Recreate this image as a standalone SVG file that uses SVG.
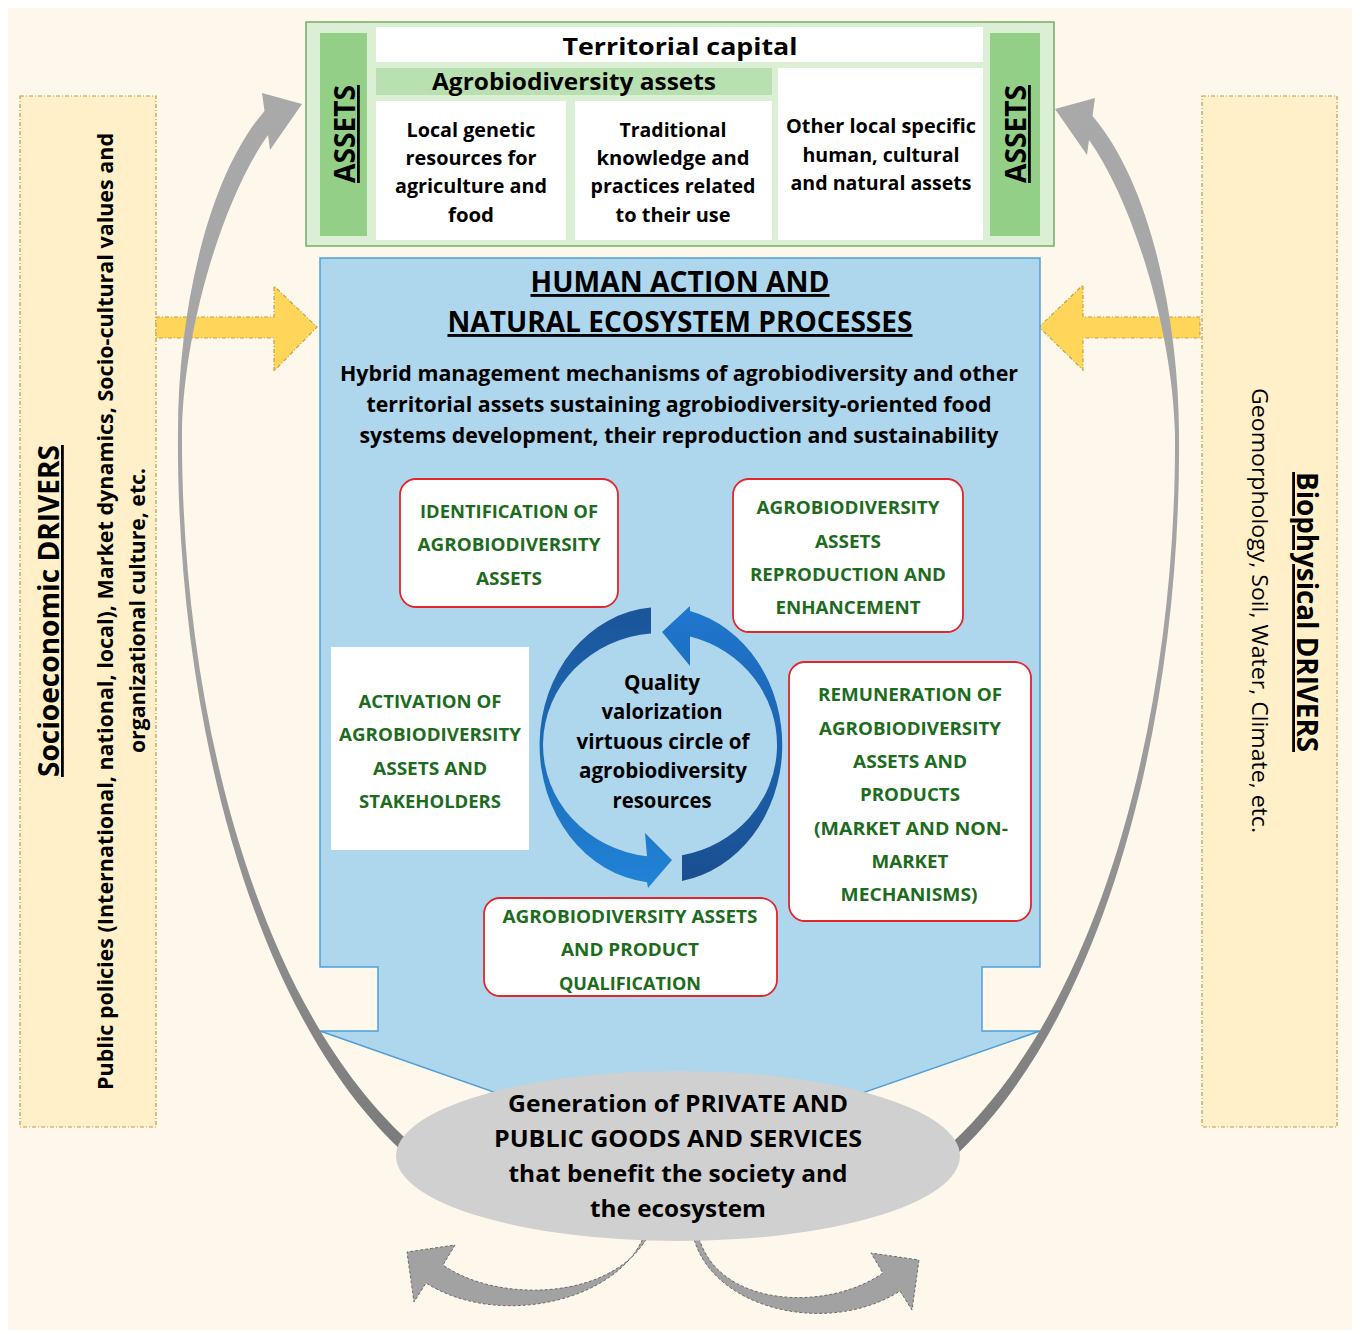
<svg xmlns="http://www.w3.org/2000/svg" width="1360" height="1334" viewBox="0 0 1360 1334">
<style>
text{font-family:"Open Sans","Liberation Sans",sans-serif;font-weight:700;fill:#000}
.c{text-anchor:middle}
.g{fill:#1d6b1d;font-size:17.5px}
.tb{font-size:20px;font-weight:700}
.red{fill:#fff;stroke:#e3262b;stroke-width:1.8}
.drv{fill:#fff0c9;stroke:#c49a45;stroke-width:1.2;stroke-dasharray:4 2 1 2}
.yar{fill:#ffd659;stroke:#c4a04a;stroke-width:1.2;stroke-dasharray:4 2 1 2}
.barr{fill:#a2a2a2;stroke:#6b6b6b;stroke-width:1;stroke-dasharray:3 2}
.u{text-decoration:underline}
.cell{fill:#fff}
.gbar{fill:#93cf87}
</style>
<defs>
<linearGradient id="ga" gradientUnits="userSpaceOnUse" x1="0" y1="100" x2="0" y2="1160">
<stop offset="0" stop-color="#a9a9a9"/><stop offset="0.55" stop-color="#a2a2a2"/><stop offset="1" stop-color="#7a7a7a"/>
</linearGradient>
<linearGradient id="bl1" gradientUnits="userSpaceOnUse" x1="0" y1="607" x2="0" y2="888">
<stop offset="0" stop-color="#1b5499"/><stop offset="1" stop-color="#2183d8"/>
</linearGradient>
<linearGradient id="bl2" gradientUnits="userSpaceOnUse" x1="0" y1="606" x2="0" y2="882">
<stop offset="0" stop-color="#1f78cf"/><stop offset="1" stop-color="#1a4e90"/>
</linearGradient>
</defs>
<rect width="1360" height="1334" fill="#fff"/>
<rect x="8" y="8" width="1344" height="1322" fill="#fdf8eb"/>

<g id="socioeconomic-drivers">
<rect class="drv" x="20" y="96" width="136" height="1031"/>
<text class="c u" transform="translate(59,611) rotate(-90)" font-size="28" textLength="332" lengthAdjust="spacingAndGlyphs">Socioeconomic DRIVERS</text>
<text class="c" transform="translate(113,611.5) rotate(-90)" font-size="20.5" textLength="957" lengthAdjust="spacingAndGlyphs">Public policies (International, national, local), Market dynamics, Socio-cultural values and</text>
<text class="c" transform="translate(145,610.5) rotate(-90)" font-size="20.5" textLength="285" lengthAdjust="spacingAndGlyphs">organizational culture, etc.</text>
</g>

<g id="biophysical-drivers">
<rect class="drv" x="1202" y="96" width="135" height="1031"/>
<text class="c u" transform="translate(1297,612) rotate(90)" font-size="28" textLength="280" lengthAdjust="spacingAndGlyphs">Biophysical DRIVERS</text>
<text class="c" transform="translate(1252,610.5) rotate(90)" font-size="21" style="font-weight:400" textLength="445" lengthAdjust="spacingAndGlyphs">Geomorphology, Soil, Water, Climate, etc.</text>
</g>

<g id="connectors">
<polygon class="yar" points="156,317 274,317 274,286 317,327 274,371 274,338 156,338"/>
<polygon class="yar" points="1200,317 1083,317 1083,285 1039,327 1083,370 1083,338 1200,338"/>
</g>

<g id="territorial-capital">
<rect x="306" y="22" width="748" height="224" fill="#dbefd4" stroke="#74ab65" stroke-width="1.5"/>
<rect class="gbar" x="320" y="33" width="47" height="203"/>
<rect class="gbar" x="990" y="33" width="50" height="203"/>
<rect class="cell" x="376" y="27" width="607" height="35"/>
<rect x="376" y="68" width="396" height="27" fill="#b9e0b0"/>
<rect class="cell" x="376" y="101" width="190" height="139"/>
<rect class="cell" x="575" y="101" width="197" height="139"/>
<rect class="cell" x="778" y="68" width="205" height="172"/>
<text class="c" x="680" y="55" font-size="24" textLength="235" lengthAdjust="spacingAndGlyphs">Territorial capital</text>
<text class="c" x="574" y="90" font-size="23" textLength="284" lengthAdjust="spacingAndGlyphs">Agrobiodiversity assets</text>
<text class="c u" transform="translate(355,134) rotate(-90)" font-size="28" textLength="98" lengthAdjust="spacingAndGlyphs">ASSETS</text>
<text class="c u" transform="translate(1026,134) rotate(-90)" font-size="28" textLength="98" lengthAdjust="spacingAndGlyphs">ASSETS</text>
<text class="c tb" x="471" y="137" textLength="129" lengthAdjust="spacingAndGlyphs">Local genetic</text>
<text class="c tb" x="471" y="165" textLength="131" lengthAdjust="spacingAndGlyphs">resources for</text>
<text class="c tb" x="471" y="193" textLength="152" lengthAdjust="spacingAndGlyphs">agriculture and</text>
<text class="c tb" x="471" y="222" textLength="46" lengthAdjust="spacingAndGlyphs">food</text>
<text class="c tb" x="673" y="137" textLength="107" lengthAdjust="spacingAndGlyphs">Traditional</text>
<text class="c tb" x="673" y="165" textLength="153" lengthAdjust="spacingAndGlyphs">knowledge and</text>
<text class="c tb" x="673" y="193" textLength="165" lengthAdjust="spacingAndGlyphs">practices related</text>
<text class="c tb" x="673" y="222" textLength="115" lengthAdjust="spacingAndGlyphs">to their use</text>
<text class="c tb" x="881" y="133" textLength="190" lengthAdjust="spacingAndGlyphs">Other local specific</text>
<text class="c tb" x="881" y="162" textLength="157" lengthAdjust="spacingAndGlyphs">human, cultural</text>
<text class="c tb" x="881" y="190" textLength="181" lengthAdjust="spacingAndGlyphs">and natural assets</text>
</g>

<g id="human-action">
<polygon points="320,258 1040,258 1040,967 982,967 982,1031 1040,1031 679,1157 320,1031 378,1031 378,967 320,967" fill="#aed6ec" stroke="#4f9ed8" stroke-width="1.5"/>
<text class="c u" x="680" y="292" font-size="29" textLength="299" lengthAdjust="spacingAndGlyphs">HUMAN ACTION AND</text>
<text class="c u" x="680" y="332" font-size="29" textLength="465" lengthAdjust="spacingAndGlyphs">NATURAL ECOSYSTEM PROCESSES</text>
<text class="c" x="679" y="381" font-size="21" textLength="678" lengthAdjust="spacingAndGlyphs">Hybrid management mechanisms of agrobiodiversity and other</text>
<text class="c" x="679" y="412" font-size="21" textLength="625" lengthAdjust="spacingAndGlyphs">territorial assets sustaining agrobiodiversity-oriented food</text>
<text class="c" x="679" y="443" font-size="21" textLength="639" lengthAdjust="spacingAndGlyphs">systems development, their reproduction and sustainability</text>
</g>

<g id="identification">
<rect class="red" x="400" y="479" width="218" height="128" rx="16"/>
<text class="c g" x="509" y="518" textLength="178" lengthAdjust="spacingAndGlyphs">IDENTIFICATION OF</text>
<text class="c g" x="509" y="551" textLength="183" lengthAdjust="spacingAndGlyphs">AGROBIODIVERSITY</text>
<text class="c g" x="509" y="585" textLength="66" lengthAdjust="spacingAndGlyphs">ASSETS</text>
</g>

<g id="reproduction">
<rect class="red" x="733" y="479" width="230" height="153" rx="16"/>
<text class="c g" x="848" y="514" textLength="183" lengthAdjust="spacingAndGlyphs">AGROBIODIVERSITY</text>
<text class="c g" x="848" y="548" textLength="66" lengthAdjust="spacingAndGlyphs">ASSETS</text>
<text class="c g" x="848" y="581" textLength="196" lengthAdjust="spacingAndGlyphs">REPRODUCTION AND</text>
<text class="c g" x="848" y="614" textLength="145" lengthAdjust="spacingAndGlyphs">ENHANCEMENT</text>
</g>

<g id="activation">
<rect x="331" y="647" width="198" height="203" fill="#fff"/>
<text class="c g" x="430" y="708" textLength="143" lengthAdjust="spacingAndGlyphs">ACTIVATION OF</text>
<text class="c g" x="430" y="741" textLength="182" lengthAdjust="spacingAndGlyphs">AGROBIODIVERSITY</text>
<text class="c g" x="430" y="775" textLength="114" lengthAdjust="spacingAndGlyphs">ASSETS AND</text>
<text class="c g" x="430" y="808" textLength="142" lengthAdjust="spacingAndGlyphs">STAKEHOLDERS</text>
</g>

<g id="remuneration">
<rect class="red" x="789" y="662" width="242" height="259" rx="16"/>
<text class="c g" x="910" y="701" textLength="184" lengthAdjust="spacingAndGlyphs">REMUNERATION OF</text>
<text class="c g" x="910" y="735" textLength="182" lengthAdjust="spacingAndGlyphs">AGROBIODIVERSITY</text>
<text class="c g" x="910" y="768" textLength="114" lengthAdjust="spacingAndGlyphs">ASSETS AND</text>
<text class="c g" x="910" y="801" textLength="100" lengthAdjust="spacingAndGlyphs">PRODUCTS</text>
<text class="c g" x="911" y="835" textLength="194" lengthAdjust="spacingAndGlyphs">(MARKET AND NON-</text>
<text class="c g" x="910" y="868" textLength="77" lengthAdjust="spacingAndGlyphs">MARKET</text>
<text class="c g" x="909" y="901" textLength="137" lengthAdjust="spacingAndGlyphs">MECHANISMS)</text>
</g>

<g id="qualification">
<rect class="red" x="484" y="898" width="293" height="98" rx="16"/>
<text class="c g" x="630" y="923" textLength="255" lengthAdjust="spacingAndGlyphs">AGROBIODIVERSITY ASSETS</text>
<text class="c g" x="630" y="956" textLength="138" lengthAdjust="spacingAndGlyphs">AND PRODUCT</text>
<text class="c g" x="630" y="990" textLength="142" lengthAdjust="spacingAndGlyphs">QUALIFICATION</text>
</g>

<g id="virtuous-circle">
<path d="M651,607.5 A121,138 0 0 0 647,882.2 L648,888 L672,860 L645,833 L647,856.2 A118,112 0 0 1 651,633.4 Z" fill="url(#bl1)"/>
<path d="M682,881 A121,138 0 0 0 690,611 L690,606 L662,632 L690,666 L690,636.6 A116,112 0 0 1 682,855.2 Z" fill="url(#bl2)"/>
<text class="c" x="662" y="690" font-size="20.5" textLength="76" lengthAdjust="spacingAndGlyphs">Quality</text>
<text class="c" x="662" y="719" font-size="20.5" textLength="121" lengthAdjust="spacingAndGlyphs">valorization</text>
<text class="c" x="663" y="749" font-size="20.5" textLength="173" lengthAdjust="spacingAndGlyphs">virtuous circle of</text>
<text class="c" x="663" y="778" font-size="20.5" textLength="168" lengthAdjust="spacingAndGlyphs">agrobiodiversity</text>
<text class="c" x="662" y="808" font-size="20.5" textLength="99" lengthAdjust="spacingAndGlyphs">resources</text>
</g>

<g id="feedback-arrows">
<path d="M407.8,1156.2 C247,1013.4 175.5,700 178,430 C178,320 205,180 264.5,111 L262,93 L302,104 L270,150 L268,135 C222,200 184,330 182,430 C180.5,700 253,1006.6 416.2,1147.8 Z" fill="url(#ga)"/>
<path transform="matrix(-1 0 0 1 1357 5)" d="M407.8,1156.2 C247,1013.4 175.5,700 178,430 C178,320 205,180 264.5,111 L262,93 L302,104 L270,150 L268,135 C222,200 184,330 182,430 C180.5,700 253,1006.6 416.2,1147.8 Z" fill="url(#ga)"/>
<path class="barr" d="M646,1230 C625,1300 500,1330 426,1283 L414,1302 L407,1252 L455,1245 L443,1265 C500,1305 620,1300 651,1230 Z"/>
<path class="barr" d="M692,1230 C705,1308 826,1338 900,1291 L912,1310 L919,1260 L871,1253 L883,1273 C826,1313 712,1308 697,1230 Z"/>
</g>

<g id="goods-services">
<ellipse cx="678" cy="1156" rx="282" ry="85" fill="#d0d0d0"/>
<text class="c" x="678" y="1112" font-size="24" textLength="340" lengthAdjust="spacingAndGlyphs">Generation of PRIVATE AND</text>
<text class="c" x="678" y="1147" font-size="24" textLength="368" lengthAdjust="spacingAndGlyphs">PUBLIC GOODS AND SERVICES</text>
<text class="c" x="678" y="1182" font-size="24" textLength="339" lengthAdjust="spacingAndGlyphs">that benefit the society and</text>
<text class="c" x="678" y="1217" font-size="24" textLength="176" lengthAdjust="spacingAndGlyphs">the ecosystem</text>
</g>
</svg>
